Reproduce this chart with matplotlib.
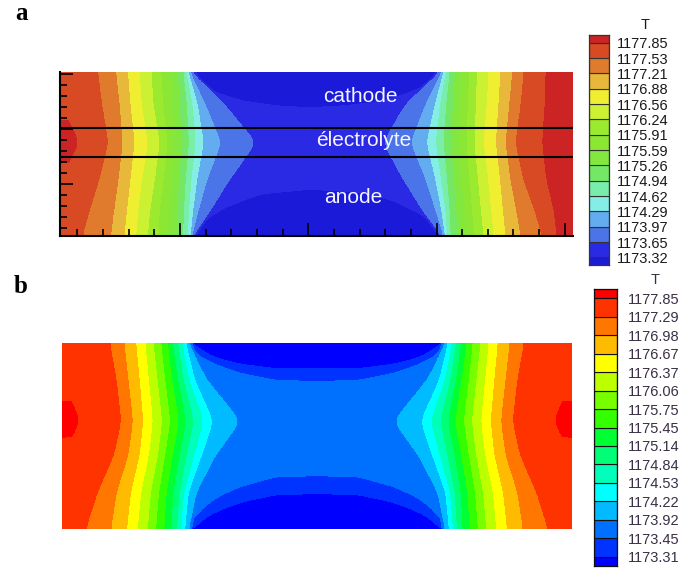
import numpy as np
import matplotlib
matplotlib.use("Agg")
import matplotlib.pyplot as plt
from matplotlib.ticker import MultipleLocator, NullFormatter

plt.rcParams['font.family'] = ['Liberation Sans', 'DejaVu Sans']

nan = np.nan

# ======================= DATA : panel a =======================
levels_a = [1173.32, 1173.65, 1173.97, 1174.29, 1174.62, 1174.94, 1175.26, 1175.59,
            1175.91, 1176.24, 1176.56, 1176.88, 1177.21, 1177.53, 1177.85]
colors_a = ['#1a1ad8', '#2a2ae4', '#4a74e8', '#64acf0', '#84eee6', '#78eeaa', '#74e866',
            '#82e840', '#8ce634', '#9cea30', '#ccf032', '#f0ee30', '#e8b83a', '#e07a2c',
            '#d84a24', '#cc2424']
# temperature profiles: heights (fraction of cell height from top)
rows_a = [0.0, 0.2, 0.43, 0.65, 0.85, 1.0]
edge_a_left = [1177.70, 1177.72, 1178.02, 1177.70, 1177.65, 1177.60]
edge_a_right = [1178.00, 1178.00, 1178.05, 1178.00, 1177.95, 1177.92]
# distance from the side (fraction of length) where T equals 1177.85, 1177.53, ..., 1173.65
cross_a_left = [
    [nan, 0.072, 0.107, 0.130, 0.153, 0.176, 0.195, 0.212, 0.227, 0.238, 0.244, 0.248, 0.251, 0.253],
    [nan, 0.080, 0.114, 0.135, 0.157, 0.180, 0.199, 0.216, 0.231, 0.245, 0.256, 0.266, 0.281, 0.319],
    [0.035, 0.092, 0.120, 0.143, 0.169, 0.192, 0.207, 0.221, 0.235, 0.249, 0.262, 0.278, 0.312, 0.380],
    [nan, 0.075, 0.112, 0.135, 0.158, 0.183, 0.200, 0.216, 0.230, 0.243, 0.254, 0.265, 0.285, 0.330],
    [nan, 0.055, 0.103, 0.128, 0.150, 0.173, 0.192, 0.210, 0.226, 0.239, 0.249, 0.257, 0.267, 0.290],
    [nan, 0.042, 0.097, 0.123, 0.146, 0.169, 0.190, 0.209, 0.226, 0.238, 0.247, 0.252, 0.255, 0.257],
]
cross_a_right = [
    [0.051, 0.094, 0.116, 0.139, 0.162, 0.185, 0.200, 0.215, 0.228, 0.238, 0.245, 0.250, 0.253, 0.256],
    [0.053, 0.100, 0.122, 0.143, 0.166, 0.187, 0.203, 0.218, 0.232, 0.245, 0.257, 0.267, 0.285, 0.325],
    [0.058, 0.110, 0.129, 0.148, 0.172, 0.190, 0.205, 0.220, 0.235, 0.250, 0.265, 0.283, 0.314, 0.368],
    [0.050, 0.095, 0.120, 0.140, 0.163, 0.183, 0.200, 0.215, 0.230, 0.243, 0.255, 0.266, 0.285, 0.330],
    [0.035, 0.072, 0.108, 0.134, 0.157, 0.177, 0.194, 0.210, 0.225, 0.238, 0.246, 0.254, 0.265, 0.290],
    [0.030, 0.058, 0.100, 0.129, 0.152, 0.172, 0.190, 0.205, 0.222, 0.236, 0.243, 0.247, 0.250, 0.253],
]
# cold cores (1173.32 isotherm) in cathode (top) and anode (bottom)
core_a_top_x = [0.260, 0.279, 0.305, 0.357, 0.422, 0.487, 0.552, 0.617, 0.663, 0.708, 0.741]
core_a_top_y = [0.003, 0.069, 0.130, 0.181, 0.211, 0.222, 0.211, 0.187, 0.150, 0.090, 0.010]
core_a_bot_x = [0.260, 0.285, 0.324, 0.390, 0.487, 0.585, 0.650, 0.700, 0.741]
core_a_bot_y = [0.985, 0.900, 0.820, 0.740, 0.710, 0.730, 0.780, 0.860, 0.963]
core_a_mid = (0.45, 1173.50)
core_a_wall = 1173.15
layers_a = [0.482, 0.657]          # electrolyte interfaces (fraction of height from bottom)
names_a = ['cathode', 'électrolyte', 'anode']

# ======================= DATA : panel b =======================
levels_b = [1173.31, 1173.45, 1173.92, 1174.22, 1174.53, 1174.84, 1175.14, 1175.45,
            1175.75, 1176.06, 1176.37, 1176.67, 1176.98, 1177.29, 1177.85]
colors_b = ['#0000ff', '#0033ff', '#0070ff', '#00bbff', '#00ffff', '#00ffbb', '#00ff77',
            '#00ff33', '#33ff00', '#77ff00', '#bbff00', '#ffff00', '#ffbb00', '#ff7700',
            '#ff3300', '#ff0000']
rows_b = [0.0, 0.2, 0.42, 0.6, 0.8, 1.0]
edge_b = [1177.60, 1177.65, 1178.02, 1177.65, 1177.45, 1177.35]
# distance from either side where T equals 1177.85, 1177.29, ..., 1173.92
cross_b = [
    [nan, 0.092, 0.120, 0.143, 0.161, 0.177, 0.192, 0.205, 0.215, 0.225, 0.233, 0.241, 0.246],
    [nan, 0.105, 0.128, 0.150, 0.168, 0.185, 0.200, 0.214, 0.225, 0.236, 0.247, 0.258, 0.282],
    [0.033, 0.114, 0.137, 0.157, 0.176, 0.194, 0.210, 0.227, 0.241, 0.256, 0.275, 0.294, 0.348],
    [nan, 0.100, 0.128, 0.150, 0.168, 0.186, 0.200, 0.215, 0.228, 0.242, 0.257, 0.272, 0.300],
    [nan, 0.068, 0.105, 0.133, 0.153, 0.172, 0.188, 0.203, 0.216, 0.228, 0.237, 0.246, 0.262],
    [nan, 0.045, 0.094, 0.125, 0.146, 0.166, 0.182, 0.198, 0.212, 0.223, 0.231, 0.239, 0.247],
]
core_b_x = [0.250, 0.280, 0.310, 0.350, 0.420, 0.500]
core_b_top1 = [0.003, 0.065, 0.095, 0.120, 0.143, 0.140]   # 1173.31
core_b_top2 = [0.010, 0.085, 0.125, 0.165, 0.205, 0.210]   # 1173.45
core_b_bot2 = [0.990, 0.880, 0.820, 0.770, 0.715, 0.710]   # 1173.45
core_b_bot1 = [0.997, 0.930, 0.890, 0.850, 0.810, 0.806]   # 1173.31
core_b_mid = (0.42, 1173.75)
core_b_wall = 1173.20

# ======================= field construction =======================
NX, NY = 800, 320
xg = np.linspace(0, 1, NX)
fg = np.linspace(0, 1, NY)      # from top


def smooth(a, w, passes=3):
    k = np.ones(w) / w
    pad = w // 2
    for _ in range(passes):
        ap = np.pad(a, (pad, w - 1 - pad), mode='edge')
        a = np.convolve(ap, k, mode='valid')
    return a


def side_field(rows, edge, cross, levels_desc, d, floor=1173.0, gap=0.01, win=17):
    cross = np.array(cross, float)
    nl = cross.shape[1]
    edge_f = smooth(np.interp(fg, rows, edge), win)
    cr = np.zeros((NY, nl))
    for k in range(nl):
        col = np.nan_to_num(cross[:, k], nan=0.0)
        cr[:, k] = smooth(np.interp(fg, rows, col), win)
    T = np.empty((NY, len(d)))
    for j in range(NY):
        xs, ts = [0.0], [edge_f[j]]
        for k in range(nl):
            L = levels_desc[k]
            p = cr[j, k]
            if ts[-1] <= L or p <= xs[-1] + 1e-4:
                continue
            xs.append(p)
            ts.append(L)
        xs.append(xs[-1] + gap)
        ts.append(floor)
        T[j] = np.interp(d, xs, ts)
    return T


def core_field(xq, top, bot, mid, wall):
    T = np.empty((NY, len(xq)))
    for i, x in enumerate(xq):
        ys, vs = [0.0], [wall]
        for cx, cy, lev in top:
            y = max(np.interp(x, cx, cy), ys[-1] + 1e-3)
            ys.append(y); vs.append(lev)
        ys.append(max(mid[0], ys[-1] + 1e-3)); vs.append(mid[1])
        for cx, cy, lev in bot:
            y = max(np.interp(x, cx, cy), ys[-1] + 1e-3)
            ys.append(y); vs.append(lev)
        ys.append(max(1.0, ys[-1] + 1e-3)); vs.append(wall)
        T[:, i] = np.interp(fg, ys, vs)
    # smooth along x so the core outlines become rounded
    for j in range(NY):
        T[j] = smooth(T[j], 15, passes=2)
    return T


desc_a = levels_a[::-1][:14]
Ta = np.maximum(side_field(rows_a, edge_a_left, cross_a_left, desc_a, xg),
                side_field(rows_a, edge_a_right, cross_a_right, desc_a, 1 - xg))
Ta = np.maximum(Ta, core_field(xg, [(core_a_top_x, core_a_top_y, levels_a[0])],
                               [(core_a_bot_x, core_a_bot_y, levels_a[0])],
                               core_a_mid, core_a_wall))

desc_b = levels_b[::-1][:13]
Tb = np.maximum(side_field(rows_b, edge_b, cross_b, desc_b, xg),
                side_field(rows_b, edge_b, cross_b, desc_b, 1 - xg))
xm = np.minimum(xg, 1 - xg)
Tb = np.maximum(Tb, core_field(xm, [(core_b_x, core_b_top1, levels_b[0]),
                                     (core_b_x, core_b_top2, levels_b[1])],
                               [(core_b_x, core_b_bot2, levels_b[1]),
                                (core_b_x, core_b_bot1, levels_b[0])],
                               core_b_mid, core_b_wall))

# ======================= figure =======================
W, H = 696, 571
fig = plt.figure(figsize=(W / 100, H / 100), dpi=100)


def px_axes(x0, y0, x1, y1):
    return fig.add_axes([x0 / W, 1 - y1 / H, (x1 - x0) / W, (y1 - y0) / H])


def draw_legend(cax, levels, colors, label_color, pad, edge):
    n = len(levels)
    bottoms = [0.5] + list(range(1, n)) + [n]
    heights = [0.5] + [1] * (n - 1) + [0.5]
    cax.bar([0.5] * (n + 1), heights, bottom=bottoms, width=1.0, color=colors,
            edgecolor=edge, linewidth=0.8)
    cax.set_xlim(0, 1)
    cax.set_ylim(0.5, n + 0.5)
    cax.set_yticks(range(1, n + 1))
    cax.set_yticklabels([f"{v:.2f}" for v in levels])
    cax.yaxis.tick_right()
    cax.tick_params(axis='y', length=0, pad=pad, labelsize=10.5, labelcolor=label_color)
    cax.set_xticks([])
    for s in cax.spines.values():
        s.set_linewidth(0.9)
        s.set_color(edge)


yup = np.linspace(0, 1, NY)

# ---- panel a ----
axa = px_axes(60, 72, 573, 236)
cs = axa.contourf(xg, yup, Ta[::-1], levels=[1172.0] + levels_a + [1179.0], colors=colors_a)
cs.set_edgecolor('face')
axa.set_xlim(0, 1)
axa.set_ylim(0, 1)
axa.hlines(layers_a, 0, 1, color='black', lw=1.5, zorder=3)
for s in ['top', 'right']:
    axa.spines[s].set_visible(False)
for s in ['left', 'bottom']:
    axa.spines[s].set_linewidth(1.5)
    axa.spines[s].set_zorder(4)
axa.xaxis.set_major_locator(MultipleLocator(0.25, offset=0.234))
axa.xaxis.set_minor_locator(MultipleLocator(0.05, offset=0.034))
axa.yaxis.set_major_locator(MultipleLocator(0.334, offset=0.317))
axa.yaxis.set_minor_locator(MultipleLocator(0.0668, offset=0.317))
axa.xaxis.set_major_formatter(NullFormatter())
axa.yaxis.set_major_formatter(NullFormatter())
axa.tick_params(which='major', direction='in', length=9.4, width=1.2, color='black')
axa.tick_params(which='minor', direction='in', length=5.2, width=1.2, color='black')
text_pos_a = [(0.586, 0.819), (0.593, 0.549), (0.571, 0.203)]
for (tx, ty), s in zip(text_pos_a, names_a):
    axa.text(tx, ty, s, color='#f4f4ff', fontsize=15, ha='center', va='baseline', zorder=5)

caxa = px_axes(589, 35, 609, 265)
draw_legend(caxa, levels_a, colors_a, '#1a1a1a', 5.8, '#333333')
fig.text(645 / W, 1 - 25 / H, 'T', ha='center', va='center', fontsize=10.5, color='#1a1a1a')

# ---- panel b ----
axb = px_axes(62, 343, 572, 529)
cs = axb.contourf(xg, yup, Tb[::-1], levels=[1172.0] + levels_b + [1179.0], colors=colors_b)
cs.set_edgecolor('face')
axb.set_xlim(0, 1)
axb.set_ylim(0, 1)
axb.axis('off')

caxb = px_axes(594, 289, 617, 566)
draw_legend(caxb, levels_b, colors_b, '#3a2f45', 7.9, '#111111')
fig.text(655 / W, 1 - 280 / H, 'T', ha='center', va='center', fontsize=10.5, color='#3a2f45')

# panel letters
fig.text(15 / W, 1 - 20 / H, 'a', fontsize=18, fontweight='bold',
         family=['Liberation Serif', 'DejaVu Serif'], va='baseline', ha='left')
fig.text(13.5 / W, 1 - 293 / H, 'b', fontsize=18, fontweight='bold',
         family=['Liberation Serif', 'DejaVu Serif'], va='baseline', ha='left')

fig.savefig('out.png', dpi=100)
